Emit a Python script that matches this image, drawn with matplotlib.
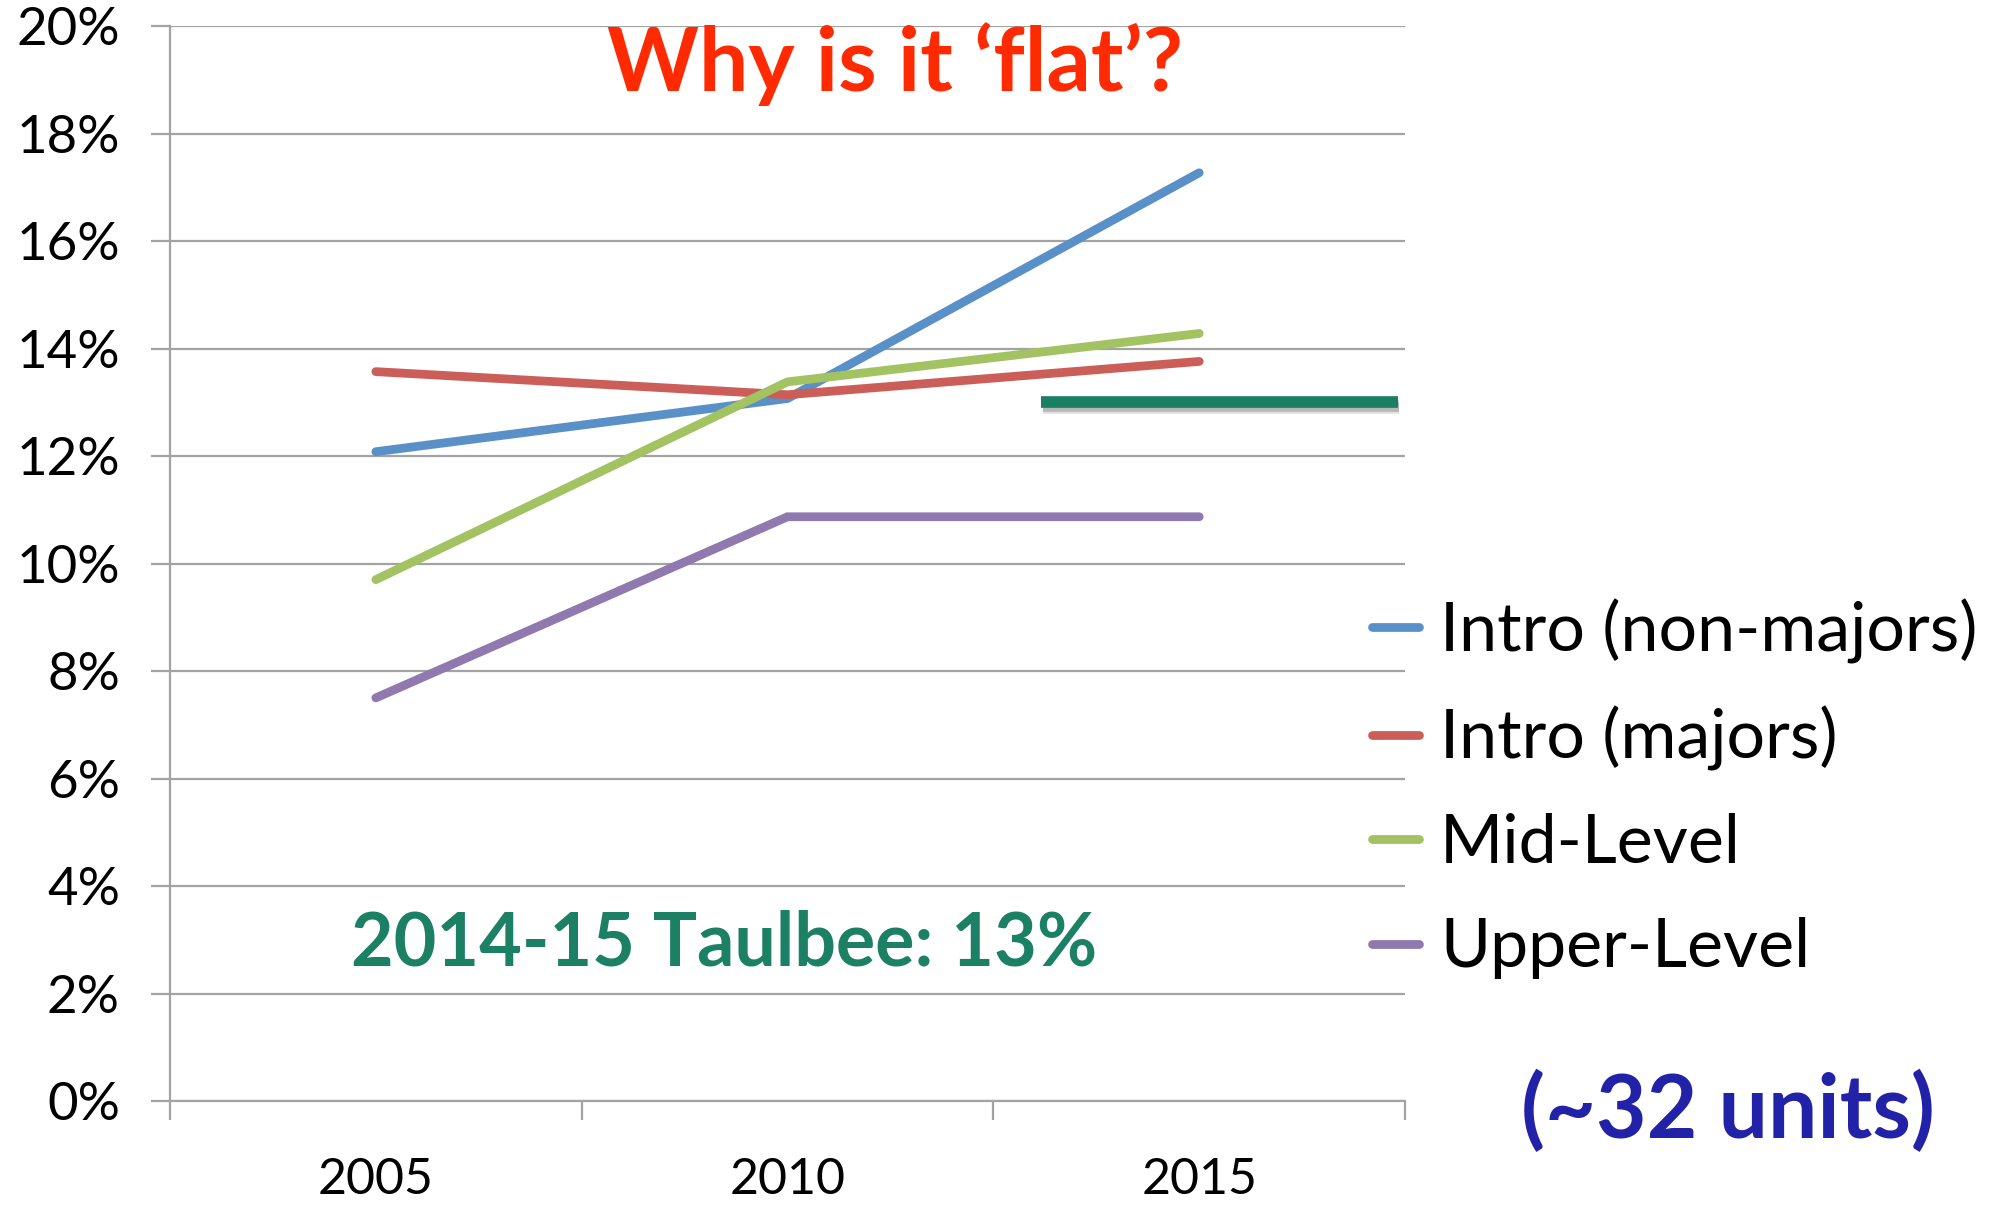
import matplotlib
matplotlib.use("Agg")
import matplotlib.pyplot as plt
import matplotlib.patheffects as pe

plt.rcParams['font.family'] = ['Lato', 'DejaVu Sans']

years = ["2005", "2010", "2015"]
intro_nonmajors = [12.08, 13.07, 17.27]
intro_majors = [13.57, 13.14, 13.76]
mid_level = [9.70, 13.38, 14.28]
upper_level = [7.50, 10.87, 10.87]
series_names = ["Intro (non-majors)", "Intro (majors)", "Mid-Level", "Upper-Level"]
series_colors = ["#5A90C8", "#CB5E59", "#A3C262", "#8F79AE"]
taulbee_value = 13.0
taulbee_span = [1.616, 2.483]
y_ticks = [0, 2, 4, 6, 8, 10, 12, 14, 16, 18, 20]

fig = plt.figure(figsize=(19.95, 12.05), dpi=100)
ax = fig.add_axes([0.0852, 0.0863, 0.6191, 0.8921])

xs = list(range(len(years)))
for vals, name, col in zip([intro_nonmajors, intro_majors, mid_level, upper_level],
                           series_names, series_colors):
    ax.plot(xs, vals, color=col, lw=6.3, solid_capstyle='round',
            solid_joinstyle='miter', label=name, zorder=3)

ax.plot(taulbee_span, [taulbee_value, taulbee_value], color="#1A7F63", lw=8.4,
        solid_capstyle='butt', zorder=4,
        path_effects=[pe.SimpleLineShadow(offset=(1.0, -4.0), alpha=0.12, shadow_color='black'),
                      pe.SimpleLineShadow(offset=(1.0, -2.5), alpha=0.18, shadow_color='black'),
                      pe.Normal()])

ax.set_xlim(-0.5, 2.5)
ax.set_ylim(0, 20)
ax.set_yticks(y_ticks)
ax.set_yticklabels([f"{v}%" for v in y_ticks])
ax.yaxis.grid(True, color="#A3A3A3", lw=1.6)
ax.set_axisbelow(True)

ax.set_xticks([-0.5, 0.5, 1.5, 2.5])
ax.set_xticklabels([])
ax.set_xticks(xs, minor=True)
ax.set_xticklabels(years, minor=True)
ax.tick_params(axis='x', which='major', length=14, width=1.6, color="#A3A3A3", direction='out')
ax.tick_params(axis='x', which='minor', length=0, pad=40, labelsize=36)
ax.tick_params(axis='y', length=14, width=1.6, color="#A3A3A3", direction='out', pad=22, labelsize=38)

for s in ['top', 'right']:
    ax.spines[s].set_visible(False)
for s in ['left', 'bottom']:
    ax.spines[s].set_color("#A3A3A3")
    ax.spines[s].set_linewidth(1.6)

leg = fig.legend(loc='upper left', bbox_to_anchor=(0.674, 0.526), frameon=False,
                 fontsize=49, handlelength=0.7, handletextpad=0.3, labelspacing=0.62,
                 borderaxespad=0)
for line in leg.get_lines():
    line.set_linewidth(6.3)

fig.text(0.4486, 0.947, "Why is it \u2018flat\u2019?", color="#FF2A00", fontsize=63,
         fontweight='bold', ha='center', va='center')
fig.text(0.363, 0.2166, "2014-15 Taulbee: 13%", color="#1B8064", fontsize=53,
         fontweight='bold', ha='center', va='center')
fig.text(0.866, 0.078, "(~32 units)", color="#2222A8", fontsize=63,
         fontweight='bold', ha='center', va='center')

fig.savefig("out.png", dpi=100)
